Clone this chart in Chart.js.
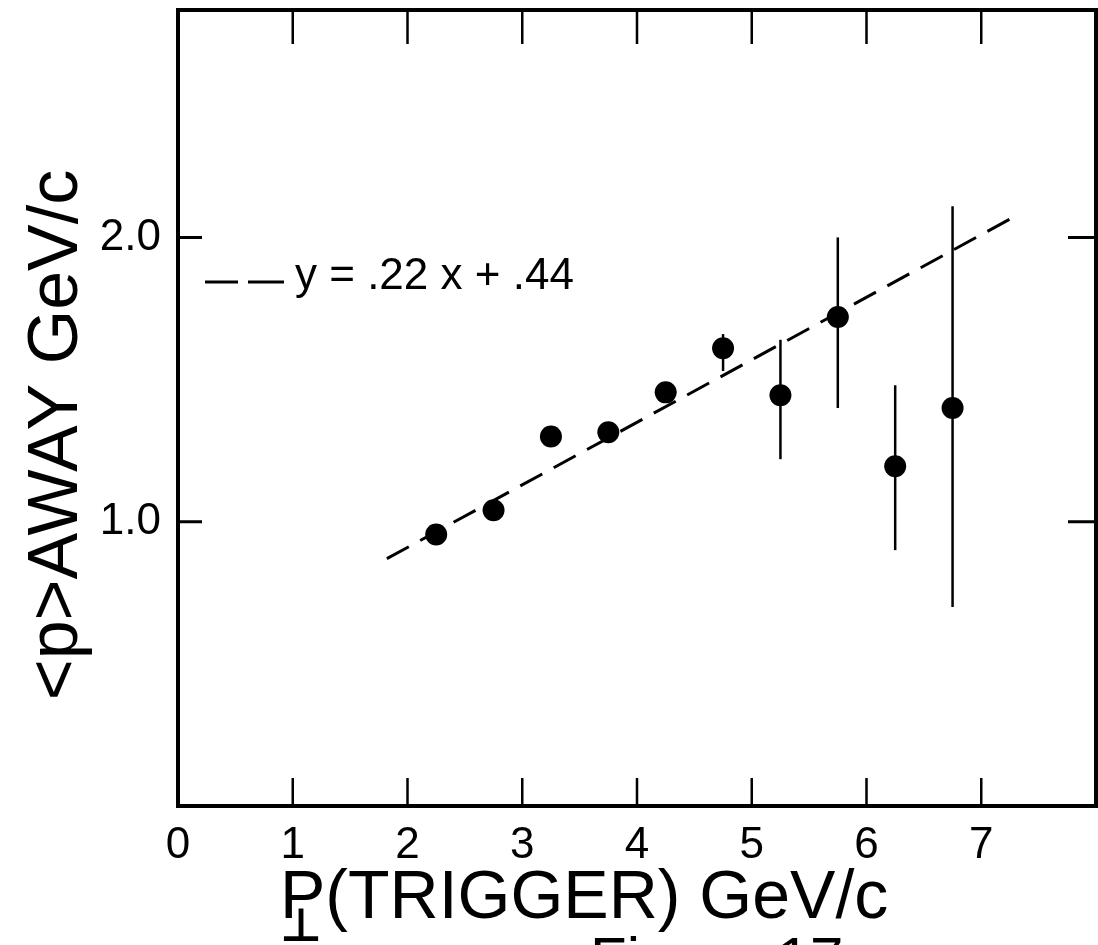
<!DOCTYPE html>
<html>
<head>
<meta charset="utf-8">
<script src="https://cdn.jsdelivr.net/npm/chart.js@4"></script>
<style>
  html, body { margin: 0; padding: 0; background: #ffffff; }
  #wrap { width: 1098px; height: 945px; }
</style>
</head>
<body>
<div id="wrap"><canvas id="c" width="1098" height="945"></canvas></div>
<script>
// ---- data ----
const pTrigger = [2.25, 2.75, 3.25, 3.75, 4.25, 4.75, 5.25, 5.75, 6.25, 6.75];
const pAway    = [0.955, 1.04, 1.30, 1.315, 1.455, 1.61, 1.445, 1.72, 1.195, 1.40];
const errUpper = [null, null, null, null, null, 1.66, 1.64, 2.00, 1.48, 2.11];
const errLower = [null, null, null, null, null, 1.53, 1.22, 1.40, 0.90, 0.70];
const fitX = [1.82, 7.32];
const fitY = [0.87, 2.08];
const xTickValues = [0, 1, 2, 3, 4, 5, 6, 7];
const xTickLabels = ['0', '1', '2', '3', '4', '5', '6', '7'];
const yTickValues = [1.0, 2.0];
const yTickLabels = ['1.0', '2.0'];
const xTitle = 'P(TRIGGER) GeV/c';
const yTitle = '<p>AWAY GeV/c';
const fitLabel = 'y = .22 x + .44';
const figureLabel = 'Figure 17';

const FONT = '"Liberation Sans", Arial, Helvetica, sans-serif';

const pointData = pTrigger.map((x, i) => ({ x: x, y: pAway[i] }));
const fitData = fitX.map((x, i) => ({ x: x, y: fitY[i] }));

function zeroPad(s) { s.paddingTop = 0; s.paddingBottom = 0; s.paddingLeft = 0; s.paddingRight = 0; }

const framePlugin = {
  id: 'frameAndDecor',
  beforeDatasetsDraw(chart) {
    const ctx = chart.ctx;
    const xs = chart.scales.x, ys = chart.scales.y;
    ctx.save();
    ctx.strokeStyle = '#000';
    ctx.lineWidth = 2.5;
    ctx.lineCap = 'butt';
    for (let i = 0; i < pTrigger.length; i++) {
      if (errUpper[i] == null) continue;
      const px = xs.getPixelForValue(pTrigger[i]);
      ctx.beginPath();
      ctx.moveTo(px, ys.getPixelForValue(errUpper[i]));
      ctx.lineTo(px, ys.getPixelForValue(errLower[i]));
      ctx.stroke();
    }
    ctx.restore();
  },
  afterDraw(chart) {
    const ctx = chart.ctx;
    const a = chart.chartArea;
    const xs = chart.scales.x, ys = chart.scales.y;
    ctx.save();
    ctx.strokeStyle = '#000';
    ctx.fillStyle = '#000';
    // frame
    ctx.lineWidth = 4;
    ctx.strokeRect(a.left, a.top, a.right - a.left, a.bottom - a.top);
    // inside tick marks
    ctx.lineWidth = 2.5;
    xTickValues.forEach(v => {
      if (v === 0) return;
      const px = xs.getPixelForValue(v);
      ctx.beginPath();
      ctx.moveTo(px, a.bottom); ctx.lineTo(px, a.bottom - 28);
      ctx.moveTo(px, a.top); ctx.lineTo(px, a.top + 34);
      ctx.stroke();
    });
    ctx.lineWidth = 3;
    yTickValues.forEach(v => {
      const py = ys.getPixelForValue(v);
      ctx.beginPath();
      ctx.moveTo(a.left, py); ctx.lineTo(a.left + 24, py);
      ctx.moveTo(a.right, py); ctx.lineTo(a.right - 28, py);
      ctx.stroke();
    });
    // legend entry for fit line
    ctx.lineWidth = 3;
    ctx.beginPath();
    ctx.moveTo(205, 282); ctx.lineTo(238, 282);
    ctx.moveTo(248, 282); ctx.lineTo(284, 282);
    ctx.stroke();
    ctx.font = '44px ' + FONT;
    ctx.textAlign = 'left';
    ctx.textBaseline = 'alphabetic';
    ctx.fillText(fitLabel, 295, 289);
    // x title
    ctx.font = '68px ' + FONT;
    ctx.textAlign = 'left';
    ctx.fillText(xTitle, 280, 918);
    ctx.font = 'bold 46px "DejaVu Sans", sans-serif';
    ctx.textAlign = 'center';
    ctx.textBaseline = 'top';
    ctx.fillText('\u22A5', 301, 906);
    // y title
    ctx.save();
    ctx.translate(58, 435);
    ctx.rotate(-Math.PI / 2);
    ctx.font = '70px ' + FONT;
    ctx.textAlign = 'center';
    ctx.textBaseline = 'middle';
    ctx.fillText(yTitle, 0, 0);
    ctx.restore();
    // cut-off figure caption at the bottom edge
    ctx.font = '60px ' + FONT;
    ctx.textAlign = 'left';
    ctx.textBaseline = 'top';
    ctx.fillText(figureLabel, 590, 932);
    ctx.restore();
  }
};

new Chart(document.getElementById('c'), {
  type: 'scatter',
  data: {
    datasets: [
      {
        label: 'data',
        data: pointData,
        backgroundColor: '#000',
        borderColor: '#000',
        pointRadius: 11,
        pointHoverRadius: 11,
        borderWidth: 0,
        showLine: false,
        order: 0
      },
      {
        label: 'fit',
        type: 'line',
        data: fitData,
        borderColor: '#000',
        borderWidth: 3,
        borderDash: [25, 13],
        pointRadius: 0,
        fill: false,
        tension: 0,
        order: 1
      }
    ]
  },
  options: {
    responsive: false,
    maintainAspectRatio: false,
    devicePixelRatio: 1,
    animation: false,
    layout: { autoPadding: false, padding: { top: 10, right: 2, left: 0, bottom: 0 } },
    plugins: { legend: { display: false }, tooltip: { enabled: false }, title: { display: false } },
    scales: {
      x: {
        type: 'linear',
        min: 0, max: 8,
        grid: { display: false },
        border: { display: false },
        afterBuildTicks: (s) => { s.ticks = xTickValues.map(v => ({ value: v })); },
        afterFit: (s) => { s.height = 139; zeroPad(s); },
        ticks: {
          color: '#000',
          font: { family: FONT, size: 44 },
          padding: 5,
          maxRotation: 0,
          autoSkip: false,
          callback: (v) => { const i = xTickValues.indexOf(v); return i >= 0 ? xTickLabels[i] : ''; }
        }
      },
      y: {
        type: 'linear',
        min: 0, max: 2.8,
        grid: { display: false },
        border: { display: false },
        afterBuildTicks: (s) => { s.ticks = yTickValues.map(v => ({ value: v })); },
        afterFit: (s) => { s.width = 178; zeroPad(s); },
        ticks: {
          color: '#000',
          font: { family: FONT, size: 44 },
          padding: 9,
          autoSkip: false,
          callback: (v) => { const i = yTickValues.indexOf(v); return i >= 0 ? yTickLabels[i] : ''; }
        }
      }
    }
  },
  plugins: [framePlugin]
});
</script>
</body>
</html>
